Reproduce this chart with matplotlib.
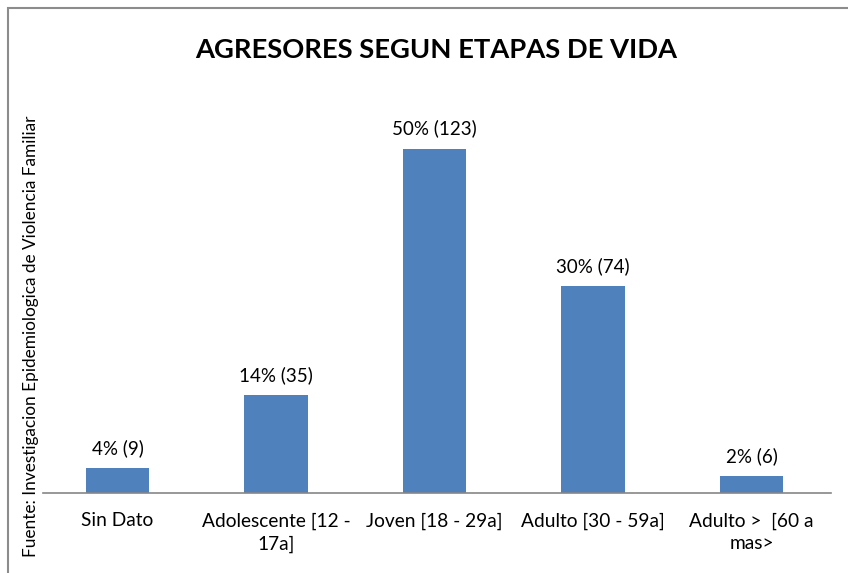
import matplotlib.pyplot as plt
from matplotlib.patches import Rectangle

# data
categorias = ['Sin Dato', 'Adolescente [12 -\n17a]', 'Joven [18 - 29a]',
              'Adulto [30 - 59a]', 'Adulto >  [60 a\nmas>']
casos = [9, 35, 123, 74, 6]
porcentajes = ['4%', '14%', '50%', '30%', '2%']

plt.rcParams['font.family'] = ['Lato', 'DejaVu Sans']

fig = plt.figure(figsize=(8.48, 5.73), dpi=100)
ax = fig.add_axes([43 / 848, 80 / 573, 788 / 848, 392 / 573])

x = range(len(categorias))
bars = ax.bar(x, casos, width=0.4, color='#4F81BD')

# labels above bars
for b, p, c in zip(bars, porcentajes, casos):
    ax.annotate('%s (%d)' % (p, c), (b.get_x() + b.get_width() / 2, b.get_height()),
                xytext=(0, 8), textcoords='offset points',
                ha='center', va='bottom', fontsize=13.5)

ax.set_xlim(-0.47, len(categorias) - 0.5)
ax.set_ylim(0, 140)
ax.set_xticks(list(x))
ax.set_xticklabels(categorias, fontsize=13.8, linespacing=1.4)
ax.tick_params(axis='x', length=0, pad=14)
ax.set_yticks([])
for s in ['top', 'right', 'left']:
    ax.spines[s].set_visible(False)
ax.spines['bottom'].set_color('#868686')
ax.spines['bottom'].set_linewidth(1.2)

fig.text(436 / 848, 1 - 50 / 573, 'AGRESORES SEGUN ETAPAS DE VIDA', ha='center', va='center',
         fontsize=19.7, fontweight='bold')
fig.text(31 / 848, 1 - 336 / 573, 'Fuente: Investigacion Epidemiologica de Violencia Familiar',
         rotation=90, ha='center', va='center', fontsize=12.4)

# outer chart border (cut off at right and bottom)
fig.patches.append(Rectangle((8 / 848, -0.1), 1.2, 1 - 8 / 573 + 0.1, transform=fig.transFigure,
                             fill=False, edgecolor='#8c8c8c', linewidth=1.5))

fig.savefig('out.png', dpi=100)
